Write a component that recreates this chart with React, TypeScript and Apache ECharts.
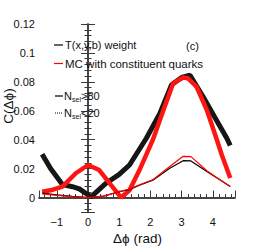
import React, { useEffect, useRef } from "react";
import * as echarts from "echarts";

// T(x,y,b) weight, N_sel > 80 (thick black band)
const tHighX = [-1.47, -1.2, -0.82, -0.5, -0.28, 0.1, 0.58, 1.0, 1.33, 1.87, 2.3, 2.68, 3.0, 3.27, 3.69, 4.05, 4.45, 4.56];
const tHighY = [0.030, 0.020, 0.009, 0.0075, 0.006, 0.0005, 0.0099, 0.016, 0.0225, 0.041, 0.058, 0.078, 0.083, 0.0846, 0.0697, 0.056, 0.041, 0.036];

// MC with constituent quarks, N_sel > 80 (thick red band)
const mcHighX = [-1.47, -1.2, -0.82, -0.39, 0.0, 0.36, 0.69, 1.06, 1.33, 1.65, 2.08, 2.41, 2.73, 3.05, 3.2, 3.48, 3.81, 4.13, 4.29, 4.56];
const mcHighY = [0.004, 0.005, 0.0076, 0.0168, 0.0225, 0.019, 0.010, 0.0, 0.005, 0.019, 0.040, 0.060, 0.079, 0.083, 0.0825, 0.0766, 0.0605, 0.040, 0.0294, 0.0135];

// T(x,y,b) weight, N_sel < 20 (thin black)
const tLowX = [-1.47, -1.0, -0.5, 0.0, 0.5, 1.0, 1.33, 1.65, 2.08, 2.62, 3.05, 3.3, 3.81, 4.1, 4.56];
const tLowY = [0.003, 0.0018, 0.0008, 0.0, 0.001, 0.004, 0.0055, 0.0085, 0.012, 0.0203, 0.0255, 0.0253, 0.018, 0.014, 0.0076];

// MC, N_sel < 20 (thin red)
const mcLowX = [-1.47, -1.0, -0.5, 0.0, 0.5, 1.0, 1.33, 1.65, 2.08, 2.62, 3.05, 3.3, 3.81, 4.1, 4.56];
const mcLowY = [0.0025, 0.0015, 0.0006, 0.0, 0.001, 0.0042, 0.0058, 0.0088, 0.0123, 0.0215, 0.0285, 0.0283, 0.0185, 0.0142, 0.0076];

const legendLabels = ["T(x,y,b) weight", "MC with constituent quarks"];
const panelLabel = "(c)";

const pairs = (xs: number[], ys: number[]) => xs.map((x, i) => [x, ys[i]]);

const FONT = "Liberation Sans";

export default function App() {
  const ref = useRef<HTMLDivElement>(null);
  useEffect(() => {
    if (!ref.current) return;
    const chart = echarts.init(ref.current, undefined, { renderer: "svg" });
    const axisColor = "#3a3a3a";
    const tickCommon = {
      axisLine: { show: true, lineStyle: { color: axisColor, width: 1.5 } },
      axisTick: { show: true, inside: true, length: 7, lineStyle: { color: axisColor, width: 1 } },
      minorTick: { show: true, splitNumber: 5, length: 3.5, lineStyle: { color: axisColor, width: 1 } },
      splitLine: { show: false },
      minorSplitLine: { show: false },
    };
    const minusFmt = (v: number) => {
      const s = String(Math.round(v * 1e6) / 1e6);
      return s.replace("-", "\u2212");
    };
    const txt = (x: number, y: number, text: string, size = 11, extra: any = {}) => ({
      type: "text",
      x,
      y,
      z: 100,
      style: { text, fontSize: size, fontFamily: FONT, fill: "#111", verticalAlign: "middle", ...extra },
    });
    chart.setOption({
      animation: false,
      grid: { left: 39, top: 24, right: 26, bottom: 38, show: false },
      xAxis: [
        {
          type: "value",
          min: -Math.PI / 2,
          max: (3 * Math.PI) / 2,
          splitNumber: 6,
          position: "bottom",
          ...tickCommon,
          axisLabel: {
            show: true,
            color: "#111",
            fontSize: 11,
            fontFamily: FONT,
            margin: 4,
            showMinLabel: false,
            showMaxLabel: false,
            formatter: minusFmt,
          },
        },
        {
          type: "value",
          min: -Math.PI / 2,
          max: (3 * Math.PI) / 2,
          position: "top",
          axisLine: { show: true, lineStyle: { color: axisColor, width: 1.5 } },
          axisTick: { show: false },
          axisLabel: { show: false },
          splitLine: { show: false },
        },
      ],
      yAxis: [
        {
          type: "value",
          min: -0.01,
          max: 0.12,
          splitNumber: 6,
          position: "left",
          ...tickCommon,
          axisLabel: {
            show: true,
            color: "#111",
            fontSize: 11,
            fontFamily: FONT,
            margin: 4,
            showMinLabel: false,
            formatter: minusFmt,
          },
        },
        {
          type: "value",
          min: -0.01,
          max: 0.12,
          splitNumber: 6,
          position: "right",
          ...tickCommon,
          axisLabel: { show: false },
        },
      ],
      series: [
        {
          type: "line",
          name: "T N>80",
          data: pairs(tHighX, tHighY),
          symbol: "none",
          lineStyle: { color: "#161616", width: 5 },
          z: 3,
        },
        {
          type: "line",
          name: "MC N>80",
          data: pairs(mcHighX, mcHighY),
          symbol: "none",
          lineStyle: { color: "#ff1414", width: 4.5 },
          z: 4,
        },
        {
          type: "line",
          name: "T N<20",
          data: pairs(tLowX, tLowY),
          symbol: "none",
          lineStyle: { color: "#000", width: 1.2 },
          z: 5,
        },
        {
          type: "line",
          name: "MC N<20",
          data: pairs(mcLowX, mcLowY),
          symbol: "none",
          lineStyle: { color: "#ff0000", width: 1.2 },
          z: 6,
        },
      ],
      graphic: [
        { type: "line", shape: { x1: 54, y1: 45, x2: 63, y2: 45 }, style: { stroke: "#000", lineWidth: 1.2 } },
        txt(65, 45, legendLabels[0]),
        { type: "line", shape: { x1: 54, y1: 63.5, x2: 63, y2: 63.5 }, style: { stroke: "#ff0000", lineWidth: 1.2 } },
        txt(65, 63.5, legendLabels[1], 11.5),
        txt(186, 46, panelLabel),
        { type: "line", shape: { x1: 55, y1: 96, x2: 63, y2: 96 }, style: { stroke: "#000", lineWidth: 1.2 } },
        txt(64, 95.5, "N"),
        txt(72, 99, "sel", 7),
        txt(81, 95.5, ">80"),
        { type: "line", shape: { x1: 55, y1: 113, x2: 63, y2: 113 }, style: { stroke: "#000", lineWidth: 1, lineDash: [1, 1] } },
        txt(64, 112.5, "N"),
        txt(72, 116, "sel", 7),
        txt(81, 112.5, "<20"),
        txt(8, 106, "C(\u0394\u03d5)", 13.5, { align: "center" }),
        txt(137.5, 238, "\u0394\u03d5 (rad)", 13.5, { align: "center" }),
      ].map((g: any, i: number) => (i === 13 ? { ...g, rotation: Math.PI / 2 } : g)),
    });
    return () => chart.dispose();
  }, []);
  return <div ref={ref} style={{ position: "absolute", left: 0, top: 0, width: 261, height: 250 }} />;
}
